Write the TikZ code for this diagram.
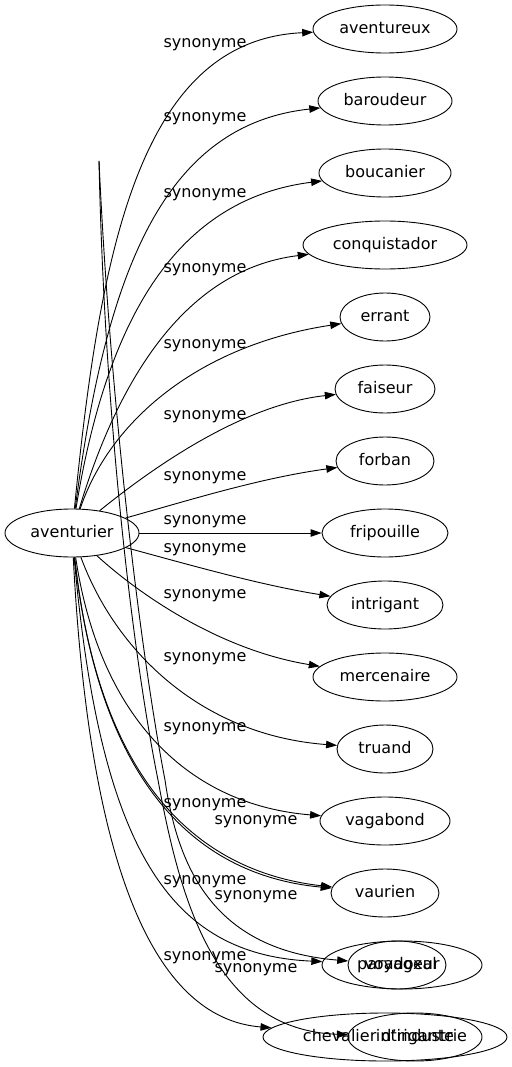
\documentclass[tikz,border=0pt]{standalone}
\usepackage{fontspec}
\setmainfont{DejaVu Sans}
\usetikzlibrary{
  arrows.meta,
  shapes.geometric
}
\tikzset{
  >={Triangle[length=11pt, width=7.5pt]},
  every node/.style={font=\fontsize{16}{19}\selectfont},
  word/.style={
    draw,
    ellipse,
    line width=0.9pt,
    minimum width=#1,
    minimum height=48pt,
    inner sep=0pt,
    text height=12pt,
    text depth=3.5pt
  },
  syn/.style={->, line width=0.9pt},
  annot/.style={inner sep=0pt}
}

\begin{document}
\begin{tikzpicture}[x=1pt, y=-1pt]
  \path[fill=white] (0,0) rectangle (511,1067);

  % Source word
  \node[word=134] (aventurier) at (72,533) {aventurier};

  % Synonyms, one per row
  \node[word=144] (aventureux) at (385,29) {aventureux};
  \node[word=134] (baroudeur) at (385,101) {baroudeur};
  \node[word=132] (boucanier) at (385,173) {boucanier};
  \node[word=164] (conquistador) at (385,245) {conquistador};
  \node[word=90] (errant) at (385,317) {errant};
  \node[word=100] (faiseur) at (385,389) {faiseur};
  \node[word=98] (forban) at (385,461) {forban};
  \node[word=126] (fripouille) at (385,533) {fripouille};
  \node[word=116] (intrigant) at (385,605) {intrigant};
  \node[word=144] (mercenaire) at (385,677) {mercenaire};
  \node[word=96] (truand) at (385,749) {truand};
  \node[word=130] (vagabond) at (385,821) {vagabond};
  \node[word=108] (vaurien) at (385,893) {vaurien};

  % Rows where two nodes lie on top of each other
  \node[word=160] (voyageur) at (402,965) {voyageur};
  \node[word=98, inner xsep=-12pt] (paradoxal) at (397,965) {paradoxal};
  \node[word=244] (chevalier) at (385,1037) {chevalier d'industrie};
  \node[word=134] (intrigante) at (415,1037) {intrigante};

  % Loose end of the two long strokes
  \coordinate (apex) at (99,161);

  % Edges from the source word
  \draw[syn] (aventurier) .. controls (100,250) and (140,40) .. (aventureux);
  \draw[syn] (aventurier) .. controls (105,280) and (160,125) .. (baroudeur);
  \draw[syn] (aventurier) .. controls (105,330) and (170,200) .. (boucanier);
  \draw[syn] (aventurier) .. controls (115,390) and (180,270) .. (conquistador);
  \draw[syn] (aventurier) .. controls (110,420) and (200,345) .. (errant);
  \draw[syn] (aventurier) .. controls (150,470) and (240,405) .. (faiseur);
  \draw[syn] (aventurier) .. controls (190,500) and (260,478) .. (forban);
  \draw[syn] (aventurier) -- (fripouille);
  \draw[syn] (aventurier) .. controls (190,565) and (260,585) .. (intrigant);
  \draw[syn] (aventurier) .. controls (140,595) and (220,650) .. (mercenaire);
  \draw[syn] (aventurier) .. controls (115,650) and (200,735) .. (truand);
  \draw[syn] (aventurier) .. controls (100,720) and (190,805) .. (vagabond);
  \draw[syn] (aventurier) .. controls (98,775) and (190,875) .. (vaurien);
  \draw[syn] (aventurier) .. controls (98,775) and (192,871) .. (vaurien);
  \draw[syn] (aventurier) .. controls (100,850) and (170,955) .. (voyageur);
  \draw[syn] (aventurier) .. controls (92,920) and (175,1020) .. (chevalier);

  % Edges from the loose end
  \draw[syn] (apex) .. controls (110,400) and (140,650) .. (165,780)
    .. controls (178,870) and (215,950) .. (paradoxal);
  \draw[syn] (apex) .. controls (104,400) and (130,640) .. (158,780)
    .. controls (180,900) and (215,1030) .. (intrigante);

  % Edge labels
  \node[annot] (s-aventureux) at (205,45) {synonyme};
  \node[annot] (s-baroudeur) at (205,119) {synonyme};
  \node[annot] (s-boucanier) at (205,195) {synonyme};
  \node[annot] (s-conquistador) at (205,270) {synonyme};
  \node[annot] (s-errant) at (205,346) {synonyme};
  \node[annot] (s-faiseur) at (205,417) {synonyme};
  \node[annot] (s-forban) at (205,478) {synonyme};
  \node[annot] (s-fripouille) at (205,522) {synonyme};
  \node[annot] (s-intrigant) at (205,550) {synonyme};
  \node[annot] (s-mercenaire) at (205,596) {synonyme};
  \node[annot] (s-truand) at (205,659) {synonyme};
  \node[annot] (s-vagabond) at (205,729) {synonyme};
  \node[annot] (s-vaurien) at (205,805) {synonyme};
  \node[annot] (s-voyageur) at (205,882) {synonyme};
  \node[annot] (s-chevalier) at (205,958) {synonyme};
  \node[annot] (s-vaurienbis) at (256,822) {synonyme};
  \node[annot] (s-paradoxal) at (256,897) {synonyme};
  \node[annot] (s-intrigante) at (256,970) {synonyme};
\end{tikzpicture}
\end{document}
